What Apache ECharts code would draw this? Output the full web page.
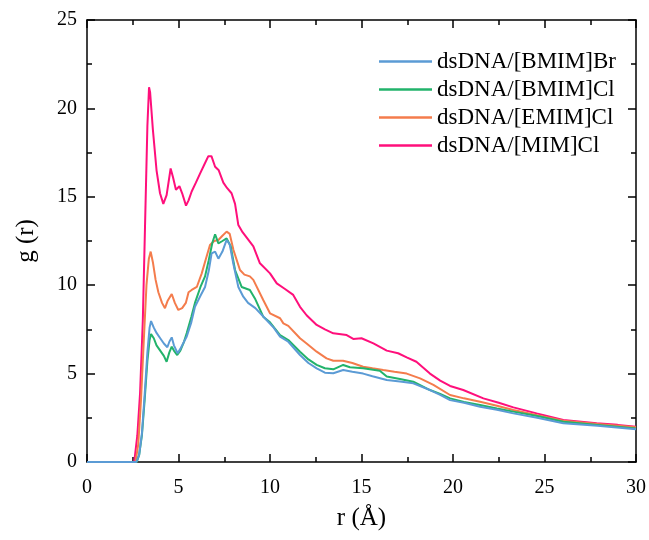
<!DOCTYPE html>
<html>
<head>
<meta charset="utf-8">
<script src="https://cdn.jsdelivr.net/npm/echarts@6/dist/echarts.min.js"></script>
<style>
  html, body { margin: 0; padding: 0; background: #fff; }
  #chart { width: 649px; height: 540px; }
</style>
</head>
<body>
<div id="chart"></div>
<script>
// Radial distribution functions g(r) of ionic-liquid cations around dsDNA
const seriesNames = ['dsDNA/[BMIM]Br', 'dsDNA/[BMIM]Cl', 'dsDNA/[EMIM]Cl', 'dsDNA/[MIM]Cl'];
const seriesColors = ['#5b9bd5', '#22b36b', '#f47c4c', '#ff0f7b'];

const xTicks = [0, 5, 10, 15, 20, 25, 30];
const yTicks = [0, 5, 10, 15, 20, 25];

// dsDNA/[BMIM]Br
const rBMIMBr = [0, 2.7, 2.85, 3.0, 3.15, 3.3, 3.42, 3.5, 3.65, 3.8, 4.0, 4.2, 4.39, 4.5, 4.63, 4.75, 4.95, 5.1, 5.3, 5.45, 5.7, 5.9, 6.2, 6.45, 6.65, 6.81, 7.0, 7.18, 7.4, 7.63, 7.8, 8.0, 8.27, 8.54, 8.8, 9.2, 9.81, 10.2, 10.55, 11.0, 11.64, 12.1, 12.55, 13.0, 13.46, 14.0, 14.5, 15.09, 15.6, 16.38, 17.1, 17.83, 18.74, 19.3, 19.84, 20.6, 21.48, 22.4, 23.3, 24.6, 26.03, 27.9, 30];
const gBMIMBr = [0, 0, 0.4, 1.6, 3.8, 6.2, 7.6, 7.97, 7.6, 7.3, 7.0, 6.7, 6.49, 6.8, 7.05, 6.6, 6.15, 6.4, 6.8, 7.1, 7.9, 8.78, 9.4, 9.9, 10.8, 11.8, 11.9, 11.5, 11.9, 12.56, 12.3, 11.2, 9.9, 9.35, 9.0, 8.7, 8.03, 7.6, 7.09, 6.8, 6.05, 5.6, 5.3, 5.05, 5.02, 5.2, 5.1, 5.0, 4.85, 4.64, 4.55, 4.45, 4.07, 3.8, 3.5, 3.35, 3.13, 2.95, 2.75, 2.5, 2.19, 2.05, 1.85];

// dsDNA/[BMIM]Cl
const rBMIMCl = [0, 2.72, 2.85, 3.0, 3.15, 3.3, 3.42, 3.5, 3.65, 3.8, 4.0, 4.2, 4.35, 4.5, 4.63, 4.75, 4.93, 5.1, 5.3, 5.45, 5.7, 5.9, 6.2, 6.45, 6.65, 6.85, 7.0, 7.18, 7.4, 7.63, 7.85, 8.09, 8.45, 8.9, 9.2, 9.63, 10.0, 10.55, 11.0, 11.64, 12.1, 12.55, 13.0, 13.46, 14.0, 14.37, 15.09, 16.0, 16.38, 17.1, 17.83, 18.74, 19.3, 19.84, 20.6, 21.48, 22.4, 23.3, 24.6, 26.03, 27.9, 30];
const gBMIMCl = [0, 0, 0.4, 1.5, 3.5, 5.7, 6.9, 7.24, 7.0, 6.6, 6.3, 6.0, 5.67, 6.2, 6.52, 6.3, 6.05, 6.3, 6.8, 7.3, 8.2, 9.0, 9.9, 10.5, 11.4, 12.4, 12.88, 12.37, 12.5, 12.65, 12.2, 10.86, 9.9, 9.73, 9.2, 8.22, 7.9, 7.18, 6.9, 6.24, 5.8, 5.49, 5.3, 5.24, 5.49, 5.36, 5.3, 5.16, 4.83, 4.7, 4.54, 4.07, 3.85, 3.6, 3.4, 3.22, 3.03, 2.85, 2.6, 2.28, 2.1, 1.9];

// dsDNA/[EMIM]Cl
const rEMIMCl = [0, 2.65, 2.8, 2.95, 3.1, 3.25, 3.38, 3.48, 3.6, 3.75, 3.9, 4.1, 4.26, 4.4, 4.63, 4.8, 4.99, 5.2, 5.4, 5.55, 5.72, 6.0, 6.27, 6.5, 6.72, 6.95, 7.18, 7.4, 7.63, 7.8, 8.0, 8.36, 8.6, 8.9, 9.09, 9.63, 10.0, 10.55, 10.73, 11.0, 11.64, 12.0, 12.55, 13.09, 13.46, 13.99, 14.5, 15.09, 15.6, 16.19, 16.8, 17.47, 18.2, 18.93, 19.84, 20.6, 21.48, 22.4, 23.3, 24.6, 26.03, 27.9, 30];
const gEMIMCl = [0, 0, 1.0, 3.5, 6.8, 10.0, 11.5, 11.9, 11.3, 10.3, 9.6, 9.0, 8.7, 9.1, 9.5, 9.0, 8.6, 8.7, 9.0, 9.6, 9.73, 9.9, 10.67, 11.5, 12.27, 12.5, 12.56, 12.8, 13.03, 12.9, 12.0, 10.86, 10.6, 10.5, 10.3, 9.16, 8.41, 8.13, 7.84, 7.7, 7.0, 6.7, 6.24, 5.86, 5.73, 5.73, 5.6, 5.39, 5.3, 5.2, 5.1, 5.0, 4.73, 4.36, 3.79, 3.6, 3.41, 3.18, 2.94, 2.65, 2.34, 2.15, 1.96];

// dsDNA/[MIM]Cl
const rMIMCl = [0, 2.58, 2.75, 2.9, 3.05, 3.17, 3.3, 3.39, 3.45, 3.6, 3.8, 3.99, 4.17, 4.35, 4.57, 4.7, 4.86, 5.05, 5.2, 5.41, 5.55, 5.72, 5.95, 6.17, 6.4, 6.63, 6.8, 7.0, 7.2, 7.45, 7.65, 7.9, 8.09, 8.27, 8.5, 9.09, 9.45, 10.0, 10.37, 10.8, 11.27, 11.64, 12.0, 12.55, 13.0, 13.46, 14.19, 14.55, 15.0, 15.65, 16.38, 17.0, 17.47, 18.0, 18.74, 19.3, 19.84, 20.56, 21.66, 22.5, 23.3, 24.57, 26.03, 27.85, 29.0, 30];
const gMIMCl = [0, 0, 1.5, 3.9, 8.0, 13.3, 19.0, 21.2, 20.9, 18.8, 16.5, 15.2, 14.6, 15.1, 16.6, 16.1, 15.4, 15.6, 15.2, 14.5, 14.8, 15.3, 15.8, 16.3, 16.8, 17.3, 17.3, 16.7, 16.5, 15.8, 15.5, 15.2, 14.6, 13.4, 13.0, 12.2, 11.24, 10.67, 10.1, 9.8, 9.45, 8.78, 8.3, 7.75, 7.5, 7.28, 7.18, 6.96, 7.0, 6.71, 6.3, 6.15, 5.92, 5.67, 5.0, 4.6, 4.3, 4.07, 3.6, 3.35, 3.09, 2.75, 2.38, 2.19, 2.1, 2.0];

const rValues = [rBMIMBr, rBMIMCl, rEMIMCl, rMIMCl];
const gValues = [gBMIMBr, gBMIMCl, gEMIMCl, gMIMCl];

const serif = '"Liberation Serif", "DejaVu Serif", serif';

function makeAxis(kind, pos, ticks, showLabels, extra) {
  return Object.assign({
    type: 'value',
    position: pos,
    min: ticks[0],
    max: ticks[ticks.length - 1],
    interval: ticks[1] - ticks[0],
    axisLine: { show: true, onZero: false, lineStyle: { color: '#000', width: 1.5 } },
    axisTick: { show: true, inside: true, length: 8, lineStyle: { color: '#000', width: 1.5 } },
    minorTick: { show: true, splitNumber: 2, length: 5, lineStyle: { color: '#000', width: 1.5 } },
    splitLine: { show: false },
    axisLabel: {
      show: showLabels,
      color: '#000',
      fontFamily: serif,
      fontSize: 20,
      margin: kind === 'x' ? 16 : 10
    }
  }, extra || {});
}

// Draw order: [MIM]Cl underneath, [BMIM]Br on top
const drawOrder = [3, 2, 1, 0];
const series = drawOrder.map(i => ({
  name: seriesNames[i],
  type: 'line',
  xAxisIndex: 0,
  yAxisIndex: 0,
  showSymbol: false,
  symbol: 'none',
  animation: false,
  lineStyle: { color: seriesColors[i], width: 2 },
  itemStyle: { color: seriesColors[i] },
  data: rValues[i].map((r, k) => [r, gValues[i][k]])
}));

const chart = echarts.init(document.getElementById('chart'), null, { renderer: 'canvas' });
chart.setOption({
  backgroundColor: '#fff',
  animation: false,
  grid: { left: 87, right: 13, top: 20, bottom: 78, containLabel: false },
  legend: {
    data: seriesNames,
    orient: 'vertical',
    left: 374,
    top: 45,
    itemWidth: 53,
    itemHeight: 2.5,
    itemGap: 5,
    icon: 'rect',
    textStyle: { fontFamily: serif, fontSize: 23, color: '#000', lineHeight: 23 }
  },
  xAxis: [
    makeAxis('x', 'bottom', xTicks, true, {
      name: 'r (Å)',
      nameLocation: 'middle',
      nameGap: 44,
      nameTextStyle: { fontFamily: serif, fontSize: 25, color: '#000' }
    }),
    makeAxis('x', 'top', xTicks, false)
  ],
  yAxis: [
    makeAxis('y', 'left', yTicks, true, {
      name: 'g (r)',
      nameLocation: 'middle',
      nameGap: 48,
      nameTextStyle: { fontFamily: serif, fontSize: 25, color: '#000' }
    }),
    makeAxis('y', 'right', yTicks, false)
  ],
  series: series
});
</script>
</body>
</html>
